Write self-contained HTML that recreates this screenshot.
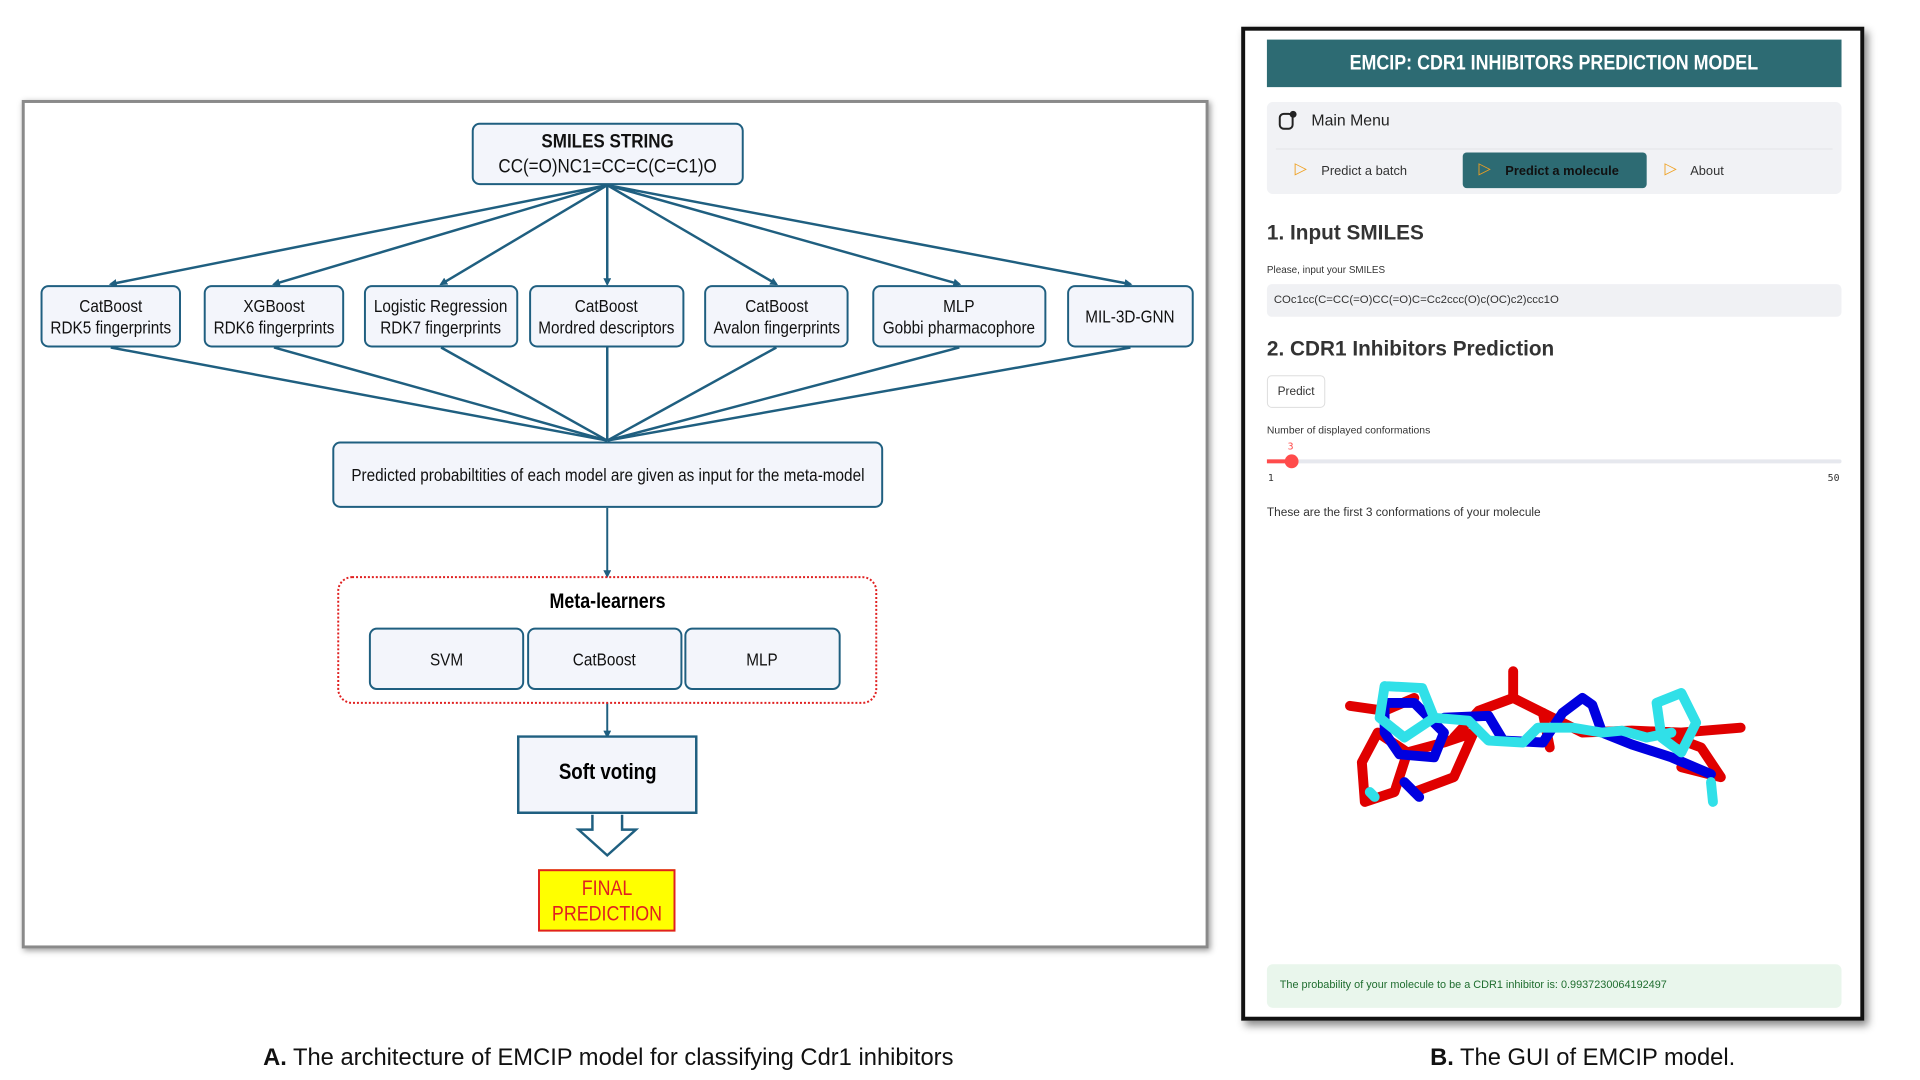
<!DOCTYPE html>
<html><head><meta charset="utf-8">
<style>
*{margin:0;padding:0;box-sizing:border-box}
body{width:1920px;height:1080px;background:#fff;position:relative;overflow:hidden;font-family:"Liberation Sans",sans-serif}
#w{position:absolute;left:0;top:0;width:1920px;height:1080px;transform:scale(0.989,0.99);transform-origin:0 0}
.abs{position:absolute}
.frameA{left:22px;top:101px;width:1200px;height:857px;border:3px solid #8a8a8a;box-shadow:2px 2px 6px #999;background:#fff}
.box{position:absolute;border:2.5px solid #1f5f80;border-radius:8px;background:#f3f5fb;display:flex;align-items:center;justify-content:center;text-align:center;font-size:18px;line-height:22px;color:#111}
.box span,.nar{display:inline-block;transform:scaleX(0.86);white-space:nowrap}
.frameB{left:1255px;top:27px;width:630px;height:1004px;border:4px solid #111;box-shadow:4px 5px 8px #888;background:#fff}
.nb{font-family:"Liberation Sans",sans-serif}
.cap{font-size:24px;color:#111;white-space:nowrap}
</style></head><body><div id="w">
<div class="abs frameA"></div>
<svg class="abs" style="left:0;top:0" width="1240" height="1000">
<defs><marker id="ah" markerWidth="8" markerHeight="8" refX="6" refY="4" orient="auto" markerUnits="userSpaceOnUse"><path d="M0,0 L8,4 L0,8 z" fill="#1f5f80"/></marker></defs>
<g stroke="#1f5f80" stroke-width="2.5" fill="none">
<line x1="614" y1="187" x2="112" y2="287" marker-end="url(#ah)"/>
<line x1="614" y1="187" x2="277" y2="287" marker-end="url(#ah)"/>
<line x1="614" y1="187" x2="446" y2="287" marker-end="url(#ah)"/>
<line x1="614" y1="187" x2="614" y2="287" marker-end="url(#ah)"/>
<line x1="614" y1="187" x2="785" y2="287" marker-end="url(#ah)"/>
<line x1="614" y1="187" x2="970" y2="287" marker-end="url(#ah)"/>
<line x1="614" y1="187" x2="1143" y2="287" marker-end="url(#ah)"/>
<line x1="112" y1="351" x2="614" y2="445"/>
<line x1="277" y1="351" x2="614" y2="445"/>
<line x1="446" y1="351" x2="614" y2="445"/>
<line x1="614" y1="351" x2="614" y2="445"/>
<line x1="785" y1="351" x2="614" y2="445"/>
<line x1="970" y1="351" x2="614" y2="445"/>
<line x1="1143" y1="351" x2="614" y2="445"/>
<line x1="614" y1="513" x2="614" y2="582" stroke-width="2" marker-end="url(#ah)"/>
<line x1="614" y1="710" x2="614" y2="744" stroke-width="2" marker-end="url(#ah)"/>
</g>
<rect x="342" y="583" width="544" height="127" rx="14" fill="none" stroke="#e02020" stroke-width="2" stroke-dasharray="2,2"/>
<path d="M524,744 H704 V821 H524 Z" fill="#f3f5fb" stroke="#1f5f80" stroke-width="2.5"/>
<path d="M599,823 V838 H585 L614,864 L643,838 H629 V823" fill="#fff" stroke="#1f5f80" stroke-width="2.5"/>
</svg>
<div class="box" style="left:477px;top:124px;width:275px;height:63px;font-size:20px;line-height:25px"><span><b>SMILES STRING</b><br>CC(=O)NC1=CC=C(C=C1)O</span></div>
<div class="box" style="left:41px;top:288px;width:142px;height:63px"><span>CatBoost<br>RDK5 fingerprints</span></div>
<div class="box" style="left:206px;top:288px;width:142px;height:63px"><span>XGBoost<br>RDK6 fingerprints</span></div>
<div class="box" style="left:368px;top:288px;width:156px;height:63px"><span>Logistic Regression<br>RDK7 fingerprints</span></div>
<div class="box" style="left:535px;top:288px;width:157px;height:63px"><span>CatBoost<br>Mordred descriptors</span></div>
<div class="box" style="left:712px;top:288px;width:146px;height:63px"><span>CatBoost<br>Avalon fingerprints</span></div>
<div class="box" style="left:882px;top:288px;width:176px;height:63px"><span>MLP<br>Gobbi pharmacophore</span></div>
<div class="box" style="left:1079px;top:288px;width:128px;height:63px"><span>MIL-3D-GNN</span></div>
<div class="box" style="left:336px;top:446px;width:557px;height:67px"><span>Predicted probabiltities of each model are given as input for the meta-model</span></div>
<div class="abs" style="left:342px;top:596px;width:544px;text-align:center;font-size:21px;font-weight:bold"><span class="nar">Meta-learners</span></div>
<div class="box" style="left:373px;top:634px;width:157px;height:63px"><span>SVM</span></div>
<div class="box" style="left:533px;top:634px;width:157px;height:63px"><span>CatBoost</span></div>
<div class="box" style="left:692px;top:634px;width:158px;height:63px"><span>MLP</span></div>
<div class="abs" style="left:524px;top:767px;width:180px;text-align:center;font-size:22px;font-weight:bold"><span class="nar">Soft voting</span></div>
<div class="abs" style="left:544px;top:878px;width:139px;height:63px;background:#ffff00;border:2px solid #e02020;color:#e02020;font-size:21px;line-height:26px;text-align:center;padding-top:5px"><span class="nar">FINAL<br>PREDICTION</span></div>
<div class="abs cap" style="left:266px;top:1055px"><b>A.</b> The architecture of EMCIP model for classifying Cdr1 inhibitors</div>

<div class="abs frameB"></div>
<div class="abs nb" style="left:1281px;top:40px;width:581px;height:48px;background:#2d6b73;color:#fff;font-weight:bold;font-size:21px;line-height:48px;text-align:center"><span class="nar">EMCIP: CDR1 INHIBITORS PREDICTION MODEL</span></div>
<div class="abs" style="left:1281px;top:103px;width:581px;height:93px;background:#f1f2f5;border-radius:6px"></div>
<div class="abs" style="left:1293px;top:114px;width:15px;height:17px;border:2px solid #222;border-radius:5px"></div>
<div class="abs" style="left:1304px;top:112px;width:7px;height:7px;background:#222;border-radius:50%"></div>
<div class="abs nb" style="left:1326px;top:114px;font-size:16px;color:#222">Main Menu</div>
<div class="abs" style="left:1290px;top:150px;width:563px;height:1px;background:#e4e4e8"></div>
<div class="abs" style="left:1479px;top:154px;width:186px;height:36px;background:#2d6b73;border-radius:4px"></div>
<div class="abs nb" style="left:1309px;top:160px;font-size:16px;color:#f0a020">▷</div>
<div class="abs nb" style="left:1336px;top:165px;font-size:13px;color:#333">Predict a batch</div>
<div class="abs nb" style="left:1495px;top:160px;font-size:16px;color:#f0a020">▷</div>
<div class="abs nb" style="left:1522px;top:165px;font-size:13px;color:#111;font-weight:bold">Predict a molecule</div>
<div class="abs nb" style="left:1683px;top:160px;font-size:16px;color:#f0a020">▷</div>
<div class="abs nb" style="left:1709px;top:165px;font-size:13px;color:#333">About</div>
<div class="abs nb" style="left:1281px;top:224px;font-size:21px;font-weight:bold;color:#333">1. Input SMILES</div>
<div class="abs nb" style="left:1281px;top:268px;font-size:10px;color:#333">Please, input your SMILES</div>
<div class="abs" style="left:1281px;top:287px;width:581px;height:33px;background:#f0f1f4;border-radius:5px"></div>
<div class="abs nb" style="left:1288px;top:297px;font-size:11.5px;color:#333">COc1cc(C=CC(=O)CC(=O)C=Cc2ccc(O)c(OC)c2)ccc1O</div>
<div class="abs nb" style="left:1281px;top:341px;font-size:21px;font-weight:bold;color:#333">2. CDR1 Inhibitors Prediction</div>
<div class="abs nb" style="left:1281px;top:379px;width:59px;height:33px;border:1px solid #ddd;border-radius:5px;font-size:12px;color:#333;text-align:center;line-height:31px">Predict</div>
<div class="abs nb" style="left:1281px;top:429px;font-size:10.5px;color:#333">Number of displayed conformations</div>
<div class="abs" style="left:1281px;top:464px;width:581px;height:4px;background:#e6e8ee;border-radius:2px"></div>
<div class="abs" style="left:1281px;top:464px;width:25px;height:4px;background:#ff4b4b"></div>
<div class="abs" style="left:1299px;top:459px;width:14px;height:14px;background:#ff4b4b;border-radius:50%"></div>
<div class="abs" style="left:1302px;top:446px;font-size:10px;color:#ff4b4b;font-family:'DejaVu Sans Mono',monospace">3</div>
<div class="abs" style="left:1282px;top:478px;font-size:10px;color:#333;font-family:'DejaVu Sans Mono',monospace">1</div>
<div class="abs" style="left:1848px;top:478px;font-size:10px;color:#333;font-family:'DejaVu Sans Mono',monospace">50</div>
<div class="abs nb" style="left:1281px;top:510px;font-size:12px;color:#333">These are the first 3 conformations of your molecule</div>
<svg class="abs" style="left:0;top:0" width="1920" height="1080">
<g fill="none" stroke-width="10" stroke-linecap="round" stroke-linejoin="round">
<polyline stroke="#e00000" points="1377,770 1393,740 1423,760 1410,800 1380,810 1377,770"/>
<polyline stroke="#e00000" points="1423,760 1460,750 1490,740 1470,785 1430,800"/>
<polyline stroke="#e00000" points="1365,713 1400,718 1430,705"/>
<polyline stroke="#e00000" points="1470,745 1495,718 1530,705 1560,720 1600,740 1650,738 1700,740 1760,735"/>
<polyline stroke="#e00000" points="1530,705 1530,678"/>
<polyline stroke="#e00000" points="1560,720 1567,755"/>
<polyline stroke="#e00000" points="1680,740 1720,755 1740,785 1700,775"/>
<polyline stroke="#0000e0" points="1400,710 1430,710 1460,740 1450,765 1415,762 1400,740 1400,710"/>
<polyline stroke="#0000e0" points="1460,725 1505,723 1520,748 1560,750 1580,720 1600,705 1610,712 1620,740 1650,752 1690,765 1730,782"/>
<polyline stroke="#0000e0" points="1420,790 1435,805"/>
<polyline stroke="#30e0e8" points="1400,693 1438,695 1450,725 1420,745 1395,725 1400,693"/>
<polyline stroke="#30e0e8" points="1450,725 1485,728 1505,748 1540,750 1555,735 1590,735 1620,740 1640,738 1665,745 1690,740"/>
<polyline stroke="#30e0e8" points="1675,710 1700,700 1715,730 1700,760 1680,745 1675,710"/>
<polyline stroke="#30e0e8" points="1730,790 1732,810"/>
<polyline stroke="#30e0e8" points="1385,800 1390,805"/>
</g>
</svg>
<div class="abs" style="left:1281px;top:974px;width:581px;height:44px;background:#e9f6ec;border-radius:6px"></div>
<div class="abs nb" style="left:1294px;top:989px;font-size:11px;color:#1f6d2f">The probability of your molecule to be a CDR1 inhibitor is: 0.9937230064192497</div>
<div class="abs cap" style="left:1446px;top:1055px"><b>B.</b> The GUI of EMCIP model.</div>
</div></body></html>
